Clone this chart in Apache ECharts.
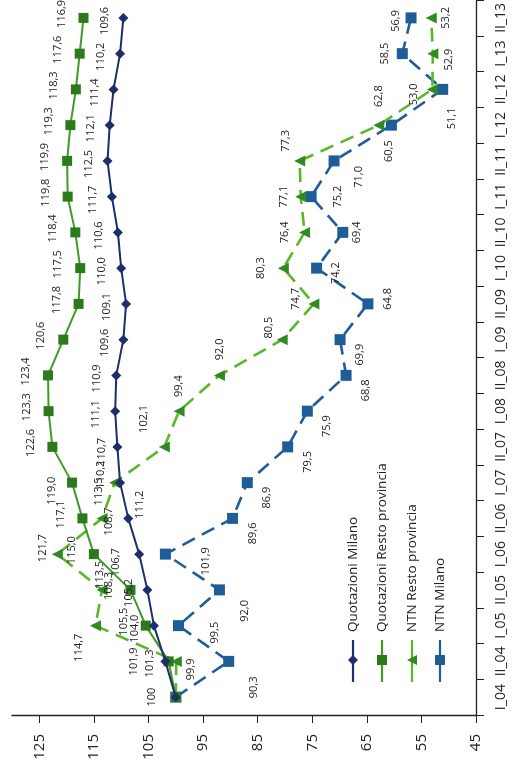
<!DOCTYPE html>
<html><head><meta charset="utf-8">
<script src="https://cdn.jsdelivr.net/npm/echarts@6/dist/echarts.min.js"></script>
<style>html,body{margin:0;padding:0;background:#fff}#c{width:514px;height:767px}</style>
</head><body><div id="c"></div>
<script>
const categories = ['I_04','II_04','I_05','II_05','I_06','II_06','I_07','II_07','I_08','II_08','I_09','II_09','I_10','II_10','I_11','II_11','I_12','II_12','I_13','II_13'];
const quotMilano = [100, 101.9, 104.0, 105.2, 106.7, 108.7, 110.2, 110.7, 111.1, 110.9, 109.6, 109.1, 110.0, 110.6, 111.7, 112.5, 112.1, 111.4, 110.2, 109.6];
const quotResto = [100, 101.3, 105.5, 108.3, 115.0, 117.1, 119.0, 122.6, 123.3, 123.4, 120.6, 117.8, 117.5, 118.4, 119.8, 119.9, 119.3, 118.3, 117.6, 116.9];
const ntnResto = [100, 99.9, 114.7, 113.5, 121.7, 113.5, 111.2, 102.1, 99.4, 92.0, 80.5, 74.7, 80.3, 76.4, 77.1, 77.3, 62.8, 53.0, 52.9, 53.2];
const ntnMilano = [100, 90.3, 99.5, 92.0, 101.9, 89.6, 86.9, 79.5, 75.9, 68.8, 69.9, 64.8, 74.2, 69.4, 75.2, 71.0, 60.5, 51.1, 58.5, 56.9];
const seriesNames = ['Quotazioni Milano','Quotazioni Resto provincia','NTN Resto provincia','NTN Milano'];
const valueTicks = [45, 130, 10];

const FONT = 'Open Sans';
const fmt = (v, i) => i === 0 ? String(v) : v.toFixed(1).replace('.', ',');

// label centre placement, [dx, dy] in screen pixels from the marker (text rotated 90deg)
const labelShift = {
  0: {def:[-19, 3], by:{0:[-24, 0], 1:[-32, 0], 4:[-23, 8], 6:[-19, -8], 7:[-15, 5]}},
  1: {def:[-22, -4], by:{1:[-19, 2], 6:[-20, 8]}},
  2: {def:[-18, 0], by:{1:[15, 8], 2:[-17, 22], 3:[-2, -15], 4:[-14, -6], 5:[-3, -27], 6:[25, 22], 7:[-20, -28], 8:[0, -25], 9:[0, -26], 10:[-13, -12], 11:[-18, -5], 12:[-22, 0], 13:[-20, 0], 14:[-17, 0], 15:[-14, -20], 16:[0, -29], 17:[-18, 5], 18:[16, 6], 19:[15, 0]}},
  3: {def:[20, 15], by:{1:[25, 26], 2:[36, 7], 3:[25, 21], 4:[40, 7], 11:[20, -5], 12:[19, 5], 13:[14, 0], 14:[27, 0], 15:[25, 16], 16:[-3, 26], 17:[9, 29], 18:[-17, 0], 19:[-15, 3]}}
};
function labelFor(s, i) {
  const sh = labelShift[s].by[i] || labelShift[s].def;
  return {show: !(i === 0 && s !== 0), position:'inside', rotate:90, align:'center', verticalAlign:'middle',
    offset:[-sh[1], sh[0]], fontFamily:FONT, fontSize:11, color:'#222',
    formatter: p => fmt(p.value, p.dataIndex)};
}
function buildData(values, s) {
  return values.map((v, i) => ({value:v, label:labelFor(s, i)}));
}

const C_MIL = '#1c2f6b', C_RES_L = '#3f9a26', C_RES_M = '#2c7a1c', C_NR_L = '#5cb62b', C_NR_M = '#2f8a1f', C_NM = '#1f5d98';

const chart = echarts.init(document.getElementById('c'), null, {renderer:'canvas'});
const option = {
  animation:false,
  textStyle:{fontFamily:FONT},
  grid:{left:12, right:38, top:-4, bottom:52, containLabel:false},
  xAxis:{type:'value', inverse:true, min:valueTicks[0], max:valueTicks[1], interval:valueTicks[2],
    axisLine:{show:true, lineStyle:{color:'#222', width:1.3}},
    axisTick:{show:true, length:8, lineStyle:{color:'#222'}},
    splitLine:{show:false},
    axisLabel:{rotate:90, showMaxLabel:false, fontSize:15, color:'#222', margin:19, fontFamily:FONT}},
  yAxis:{type:'category', data:categories, position:'right', boundaryGap:true,
    axisLine:{show:true, lineStyle:{color:'#222', width:1.3}},
    axisTick:{show:true, length:8, lineStyle:{color:'#222'}},
    axisLabel:{rotate:90, interval:0, fontSize:14, color:'#222', margin:18, fontFamily:FONT}},
  series:[
    {name:seriesNames[0], type:'line', data:buildData(quotMilano, 0), symbol:'diamond', symbolSize:10, z:4,
      lineStyle:{color:C_MIL, width:2}, itemStyle:{color:C_MIL}},
    {name:seriesNames[1], type:'line', data:buildData(quotResto, 1), symbol:'rect', symbolSize:10, z:3,
      lineStyle:{color:C_RES_L, width:2}, itemStyle:{color:C_RES_M}},
    {name:seriesNames[2], type:'line', data:buildData(ntnResto, 2), symbol:'triangle', symbolSize:11, symbolRotate:90, z:2,
      lineStyle:{color:C_NR_L, width:2.6, type:[14,8]}, itemStyle:{color:C_NR_M}},
    {name:seriesNames[3], type:'line', data:buildData(ntnMilano, 3), symbol:'rect', symbolSize:11, z:1,
      lineStyle:{color:C_NM, width:2.6, type:[14,8]}, itemStyle:{color:C_NM}}
  ],
  graphic: (function(){
    const items = [];
    const xs = [353, 382, 412, 440];
    const cols = [[C_MIL,C_MIL],[C_RES_L,C_RES_M],[C_NR_L,C_NR_M],[C_NM,C_NM]];
    const y0 = 640, y1 = 682, ym = 660;
    xs.forEach((x, i) => {
      items.push({type:'line', shape:{x1:x, y1:y0, x2:x, y2:y1}, style:{stroke:cols[i][0], lineWidth:2.2}});
      let mk;
      if (i === 0) mk = {type:'polygon', shape:{points:[[x,ym-5],[x+5,ym],[x,ym+5],[x-5,ym]]}, style:{fill:cols[i][1]}};
      else if (i === 2) mk = {type:'polygon', shape:{points:[[x+5,ym-5],[x+5,ym+5],[x-5,ym]]}, style:{fill:cols[i][1]}};
      else mk = {type:'rect', shape:{x:x-5, y:ym-5, width:10, height:10}, style:{fill:cols[i][1]}};
      items.push(mk);
      items.push({type:'text', x:x, y:632, rotation:Math.PI/2,
        style:{text:seriesNames[i], fontFamily:FONT, fontSize:13.5, fill:'#222', textAlign:'left', textVerticalAlign:'middle'}});
    });
    return items;
  })()
};
chart.setOption(option);
</script></body></html>
